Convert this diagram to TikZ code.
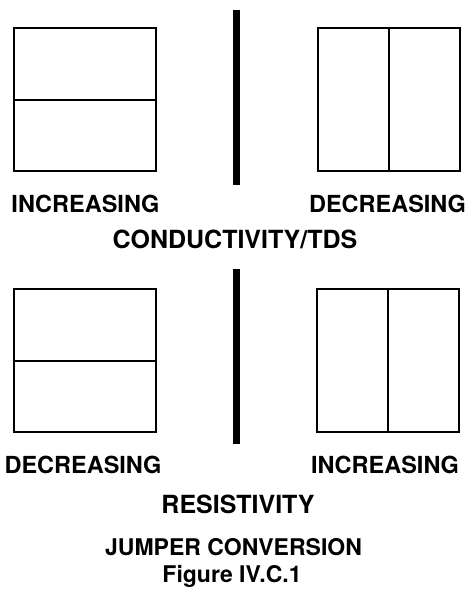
\documentclass[tikz,border=0pt]{standalone}
\usepackage{fontspec}
\setmainfont{TeX Gyre Heros}
\begin{document}
\begin{tikzpicture}[x=1pt,y=-1pt,
  jbox/.style={draw=black, line width=2pt, minimum width=142pt, minimum height=143pt, inner sep=0pt},
  divider/.style={line width=2pt},
  bar/.style={line width=7pt},
  lbl/.style={anchor=base, inner sep=0pt, font=\bfseries\fontsize{23.5}{28}\selectfont},
  ttl/.style={anchor=base, inner sep=0pt, font=\bfseries\fontsize{25}{30}\selectfont},
  figcap/.style={anchor=base, inner sep=0pt, font=\bfseries\fontsize{23}{28}\selectfont}]
\useasboundingbox (0,0) rectangle (468,589);
% top row
\node[jbox] (b1) at (85,99.5) {};
\draw[divider] (b1.west) -- (b1.east);
\node[jbox] (b2) at (388.5,99.5) {};
\draw[divider] (b2.north) -- (b2.south);
\coordinate (t1) at (236.5,10);
\coordinate (t2) at (236.5,185);
\draw[bar] (t1) -- (t2);
\node[lbl] (l1) at (85.5,212) {INCREASING};
\node[lbl] (l2) at (387.5,212) {DECREASING};
\node[ttl] (c1) at (235,248) {CONDUCTIVITY/TDS};
% bottom row
\node[jbox] (b3) at (84.5,360.5) {};
\draw[divider] (b3.west) -- (b3.east);
\node[jbox] (b4) at (388,360.5) {};
\draw[divider] (b4.north) -- (b4.south);
\coordinate (u1) at (236.5,269);
\coordinate (u2) at (236.5,444);
\draw[bar] (u1) -- (u2);
\node[lbl] (l3) at (83,473) {DECREASING};
\node[lbl] (l4) at (385,473) {INCREASING};
\node[ttl] (c2) at (238,513) {RESISTIVITY};
\node[figcap] (c3) at (233.5,555) {JUMPER CONVERSION};
\node[figcap] (c4) at (232,582) {Figure IV.C.1};
\end{tikzpicture}
\end{document}
